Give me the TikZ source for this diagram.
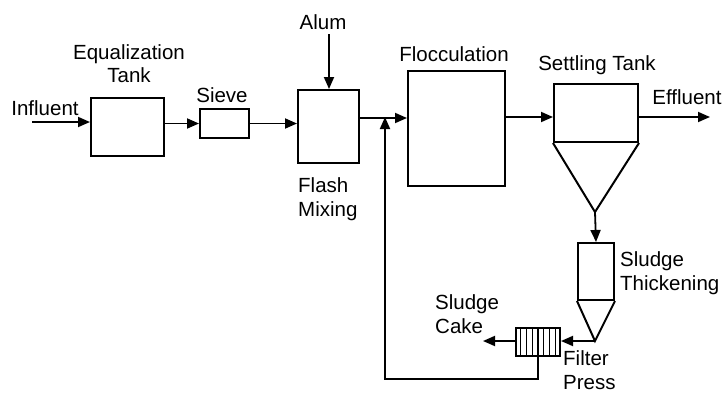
\documentclass[tikz,border=0pt]{standalone}
\usepackage{fontspec}
\setmainfont{Liberation Sans}
\usetikzlibrary{arrows.meta,calc}
\begin{document}
\begin{tikzpicture}[x=1pt,y=-1pt,
  every node/.style={font=\fontsize{20.5}{24}\selectfont, inner sep=0pt},
  box/.style={draw, line width=2pt, anchor=north west},
  flow/.style={line width=1.8pt, -{Triangle[length=12pt,width=10pt]}},
  pipe/.style={line width=1.8pt},
  lbl/.style={align=left}]
\useasboundingbox (0,0) rectangle (724,394);
% boxes
\node[box, minimum width=73pt, minimum height=58pt] (eq) at (90,97) {};
\node[box, minimum width=49pt, minimum height=29pt] (sieve) at (199,108) {};
\node[box, minimum width=61pt, minimum height=73pt] (flash) at (297,89) {};
\node[box, minimum width=97pt, minimum height=115pt] (floc) at (407,70) {};
\node[box, minimum width=84pt, minimum height=58pt] (st) at (553,83) {};
\node[box, minimum width=36pt, minimum height=57pt] (th) at (577,242) {};
\node[box, minimum width=44pt, minimum height=28pt] (fp) at (515,327) {};
% cones
\coordinate (sttip) at (595,212);
\coordinate (thtip) at (595,341);
\draw[line width=2pt, line join=miter] (st.south west) -- (sttip) -- (st.south east);
\draw[line width=2pt, line join=miter] (th.south west) -- (thtip) -- (th.south east);
% filter press plates
\foreach \i in {1,...,7} {
  \draw[line width=1.3pt] ($(fp.north west)!\i/8!(fp.north east)$) -- ($(fp.south west)!\i/8!(fp.south east)$);
}
% labels
\node (tin) at (45,108) {Influent};
\node[lbl] (teq) at (129,66) {\begin{tabular}{@{}c@{}}Equalization\\[-1pt]Tank\end{tabular}};
\node (tsieve) at (222,95) {Sieve};
\node (talum) at (323,22) {Alum};
\node[lbl, anchor=north west] (tflash) at (298,177) {Flash\\Mixing};
\node (tfloc) at (454,54) {Flocculation};
\node (tst) at (597,65) {Settling Tank};
\node (teff) at (687,97) {Effluent};
\node[lbl, anchor=north west] (tth) at (620,251) {Sludge\\Thickening};
\node[lbl, anchor=north west] (tcake) at (435,294) {Sludge\\Cake};
\node[lbl, anchor=north west] (tfp) at (563,350) {Filter\\Press};
% coordinates
\coordinate (in) at (32,122);
\coordinate (alumst) at (329,34);
\coordinate (j) at (385,118);
\coordinate (s1) at (504,117);
\coordinate (eff) at (710,117);
\coordinate (cake) at (483,341);
\coordinate (rb) at (385,379);
% connectors
\draw[flow] (in) -- (eq.west |- in);
\draw[flow] (eq.east |- sieve.west) -- (sieve.west);
\draw[flow] (sieve.east) -- (flash.west |- sieve.east);
\draw[flow] (alumst) -- (flash.north -| alumst);
\draw[flow] (flash.east |- j) -- (floc.west |- j);
\draw[flow] (s1) -- (st.west |- s1);
\draw[flow] (st.east |- s1) -- (eff);
\draw[flow] (sttip) -- (th.north);
\draw[flow] (thtip) -- (fp.east |- thtip);
\draw[flow] (fp.west |- thtip) -- (cake);
\draw[flow, line join=miter] (fp.south) |- (rb) -- ([yshift=1pt]j);
\end{tikzpicture}
\end{document}
